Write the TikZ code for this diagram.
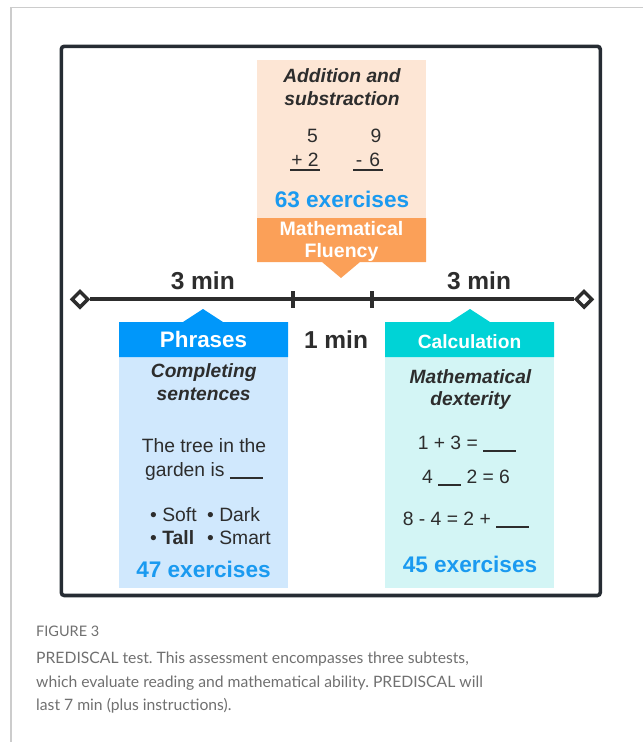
\documentclass[tikz,border=0pt]{standalone}
\usepackage{fontspec}
\setmainfont{Liberation Sans}
\newfontfamily\capfont{Lato}
\usetikzlibrary{shapes.geometric}
\frenchspacing

\definecolor{ink}{HTML}{2D2D2D}
\definecolor{framecol}{HTML}{262C33}
\definecolor{peachbg}{HTML}{FDE6D5}
\definecolor{orangeband}{HTML}{FBA058}
\definecolor{phrblue}{HTML}{0097FA}
\definecolor{phrlight}{HTML}{D0E8FD}
\definecolor{calccyan}{HTML}{00D3D6}
\definecolor{calclight}{HTML}{D3F5F5}
\definecolor{exblue}{HTML}{1A9AF0}
\definecolor{capgray}{HTML}{707070}
\definecolor{rulegray}{HTML}{CCCCCC}

\tikzset{
  txt/.style={anchor=base, inner sep=0pt, text=ink, font=\fontsize{19.3}{23}\selectfont},
  title/.style={txt, font=\fontsize{19.2}{23}\selectfont\bfseries\itshape},
  head/.style={txt, text=white, font=\fontsize{19.5}{23}\selectfont\bfseries},
  count/.style={txt, text=exblue, font=\fontsize{22.6}{26}\selectfont\bfseries},
  dur/.style={txt, font=\fontsize{24.5}{28}\selectfont\bfseries},
  endmark/.style={diamond, aspect=1, draw=ink, fill=white, line width=3.4pt,
    minimum width=17pt, minimum height=17pt, inner sep=0pt},
  captxt/.style={anchor=base west, inner sep=0pt, text=capgray, font=\capfont\fontsize{15.7}{22}\selectfont},
}
\newcommand{\blank}[1]{\rule[-2.6pt]{#1pt}{1.3pt}}

\begin{document}
\begin{tikzpicture}[x=1pt, y=-1pt]
\useasboundingbox (0,0) rectangle (643,742);

% page rules
\draw[rulegray, line width=1.3pt] (11,742) -- (11,7.5) -- (643,7.5);

% outer frame
\draw[framecol, line width=3.6pt, rounded corners=3pt] (61.3,46.3) rectangle (600.3,595.5);

% ---- Mathematical fluency card
\fill[peachbg] (257,60) rectangle (426,218);
\fill[orangeband] (257,218) -- (426,218) -- (426,262) -- (360,262) -- (341,278)
  -- (322,262) -- (257,262) -- cycle;
\node[title] (f1) at (342,82) {Addition and};
\node[title] (f2) at (342,105) {substraction};
\node[txt] (n5) at (312.5,142) {5};
\node[txt] (n9) at (376,142) {9};
\node[txt] (np) at (305,166) {+ 2};
\node[txt] (nm) at (368,166) {-\hspace{7pt}6};
\draw[ink, line width=1.3pt] (290,170) -- (320,170);
\draw[ink, line width=1.3pt] (353,170) -- (383,170);
\node[count] (fc) at (342,207) {63 exercises};
\node[head] (fh1) at (341.5,235) {Mathematical};
\node[head] (fh2) at (341.5,257) {Fluency};

% ---- timeline
\node[endmark] (L) at (80,299.3) {};
\node[endmark] (R) at (584,299.3) {};
\draw[ink, line width=4pt] (L.east) -- (R.west);
\coordinate (t1) at (293,299.3);
\coordinate (t2) at (371.7,299.3);
\draw[ink, line width=4pt] ([yshift=-8.5pt]t1) -- ([yshift=8.5pt]t1);
\draw[ink, line width=4pt] ([yshift=-8.5pt]t2) -- ([yshift=8.5pt]t2);
\node[dur] (d1) at (202.8,289) {3 min};
\node[dur] (d2) at (479,289) {3 min};
\node[dur] (d3) at (336,348) {1 min};

% ---- Phrases card
\fill[phrlight] (119,357) rectangle (288,588);
\fill[phrblue] (119,357) -- (119,322) -- (183,322) -- (203,309) -- (223,322)
  -- (288,322) -- (288,357) -- cycle;
\node[head, font=\fontsize{22.4}{26}\selectfont\bfseries] (ph) at (203.5,347.5) {Phrases};
\node[title] (p1) at (203.7,377) {Completing};
\node[title] (p2) at (203.7,400) {sentences};
\node[txt] (p3) at (204,452) {The tree in the};
\node[txt] (p4) at (204,476) {garden is \blank{33}};
\node[txt, anchor=base west] (o1) at (150,521) {• Soft};
\node[txt, anchor=base west] (o2) at (207,521) {• Dark};
\node[txt, anchor=base west] (o3) at (150,544) {• \textbf{Tall}};
\node[txt, anchor=base west] (o4) at (207,544) {• Smart};
\node[count] (pc) at (203.5,577) {47 exercises};

% ---- Calculation card
\fill[calclight] (385,357) rectangle (554,588);
\fill[calccyan] (385,357) -- (385,322) -- (450,322) -- (470,309) -- (490,322)
  -- (554,322) -- (554,357) -- cycle;
\node[head, font=\fontsize{19.2}{23}\selectfont\bfseries] (ch) at (469.5,348) {Calculation};
\node[title] (c1) at (470.5,383) {Mathematical};
\node[title] (c2) at (470.5,405) {dexterity};
\node[txt] (c3) at (467,449) {1 + 3 = \blank{33}};
\node[txt] (c4) at (466,483) {4 \blank{23} 2 = 6};
\node[txt] (c5) at (466,525) {8 - 4 = 2 + \blank{33}};
\node[count] (cc) at (470,572) {45 exercises};

% ---- caption
\node[captxt, font=\capfont\fontsize{14.5}{18}\selectfont] (cap0) at (36,636) {FIGURE 3};
\node[captxt] (cap1) at (36,663) {PREDISCAL test. This assessment encompasses three subtests,};
\node[captxt] (cap2) at (36,687) {which evaluate reading and mathematical ability. PREDISCAL will};
\node[captxt] (cap3) at (36,710) {last 7 min (plus instructions).};
\end{tikzpicture}
\end{document}
